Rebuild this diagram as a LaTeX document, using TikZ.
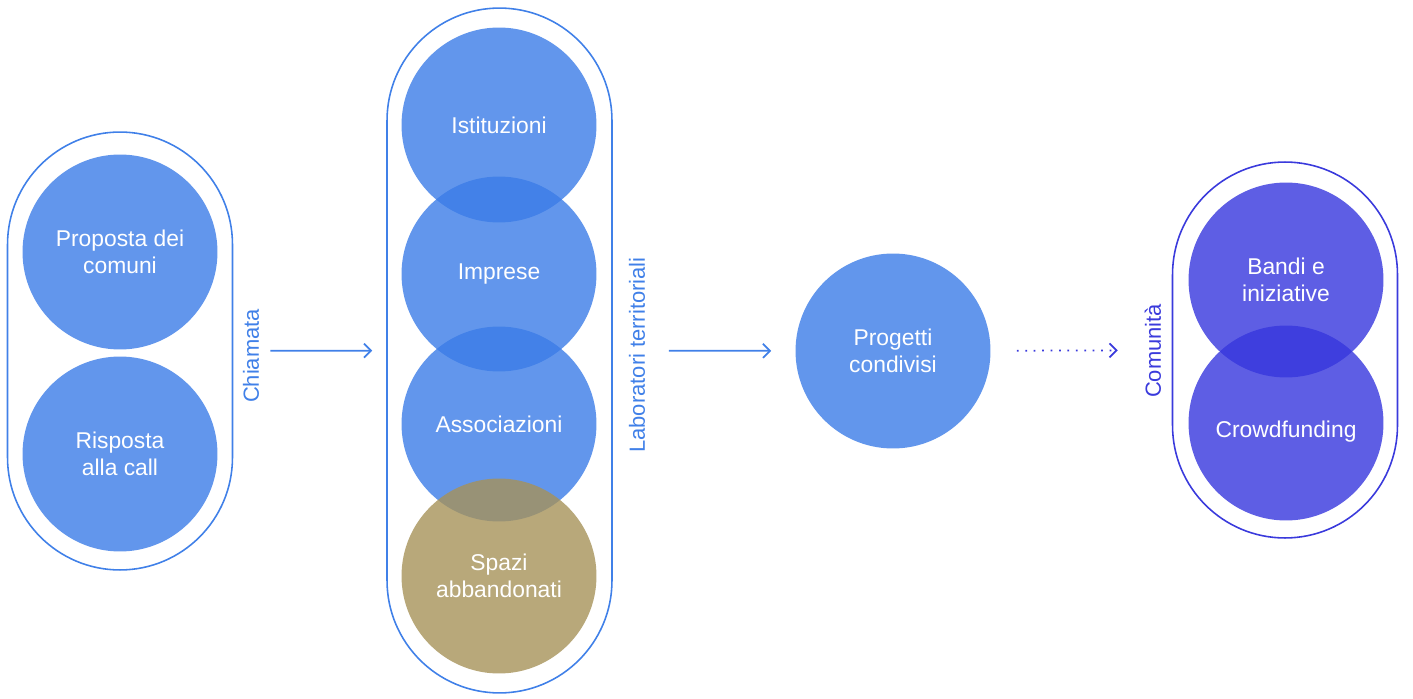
\documentclass[tikz,border=0pt]{standalone}
\usepackage{fontspec}
\setmainfont{Liberation Sans}
\usetikzlibrary{arrows.meta}
\definecolor{bluefill}{RGB}{59,124,231}
\definecolor{tanfill}{RGB}{166,146,89}
\definecolor{indigofill}{RGB}{54,54,221}
\definecolor{blueline}{RGB}{64,128,232}
\definecolor{indigoline}{RGB}{58,58,220}
\begin{document}
\begin{tikzpicture}[x=0.02cm, y=-0.02cm,
    bubble/.style={circle, minimum size=3.9cm, inner sep=0pt, fill=#1, fill opacity=0.8,
        text opacity=1, text=white, align=center, font=\fontsize{13}{15.5}\selectfont},
    capsule/.style={rectangle, draw=#1, line width=0.9pt, rounded corners=2.25cm,
        minimum width=4.5cm, inner sep=0pt},
    side/.style={rotate=90, text=#1, font=\fontsize{12.5}{15}\selectfont},
    flow/.style={-{Straight Barb[length=4pt, width=8pt]}, line width=1pt, draw=#1}]
    \useasboundingbox (0,0) rectangle (1413,699);
    % capsules
    \node[capsule=blueline, minimum height=8.76cm] (call) at (120,351) {};
    \node[capsule=blueline, minimum height=13.7cm] (lab) at (499.5,350.5) {};
    \node[capsule=indigoline, minimum height=7.52cm] (com) at (1285,350) {};
    % circles
    \node[bubble=bluefill] (proposta) at (120,252) {Proposta dei\\comuni};
    \node[bubble=bluefill] (risposta) at (120,454) {Risposta\\alla call};
    \node[bubble=bluefill] (ist) at (499,125) {Istituzioni};
    \node[bubble=bluefill] (imp) at (499,274) {Imprese};
    \node[bubble=bluefill] (ass) at (499,424) {Associazioni};
    \node[bubble=tanfill] (spazi) at (499,576) {Spazi\\abbandonati};
    \node[bubble=bluefill] (prog) at (893,351) {Progetti\\condivisi};
    \node[bubble=indigofill] (bandi) at (1286,280) {Bandi e\\iniziative};
    \node[bubble=indigofill, text height=19.6pt] (crowd) at (1286,423) {Crowdfunding};
    % labels
    \node[side=blueline] (chiamata) at (251,356) {Chiamata};
    \node[side=blueline] (laboratori) at (637,355) {Laboratori territoriali};
    \node[side=indigoline] (comunita) at (1153,351) {Comunità};
    % arrows
    \draw[flow=blueline, shorten <=0.74cm, shorten >=0.28cm] (call) -- (lab);
    \draw[flow=blueline, shorten <=1.12cm, shorten >=0.48cm] (lab) -- (prog);
    \draw[flow=indigoline, dash pattern=on 1pt off 3.8pt, shorten <=0.52cm, shorten >=1.08cm] (prog) -- (com);
\end{tikzpicture}
\end{document}
